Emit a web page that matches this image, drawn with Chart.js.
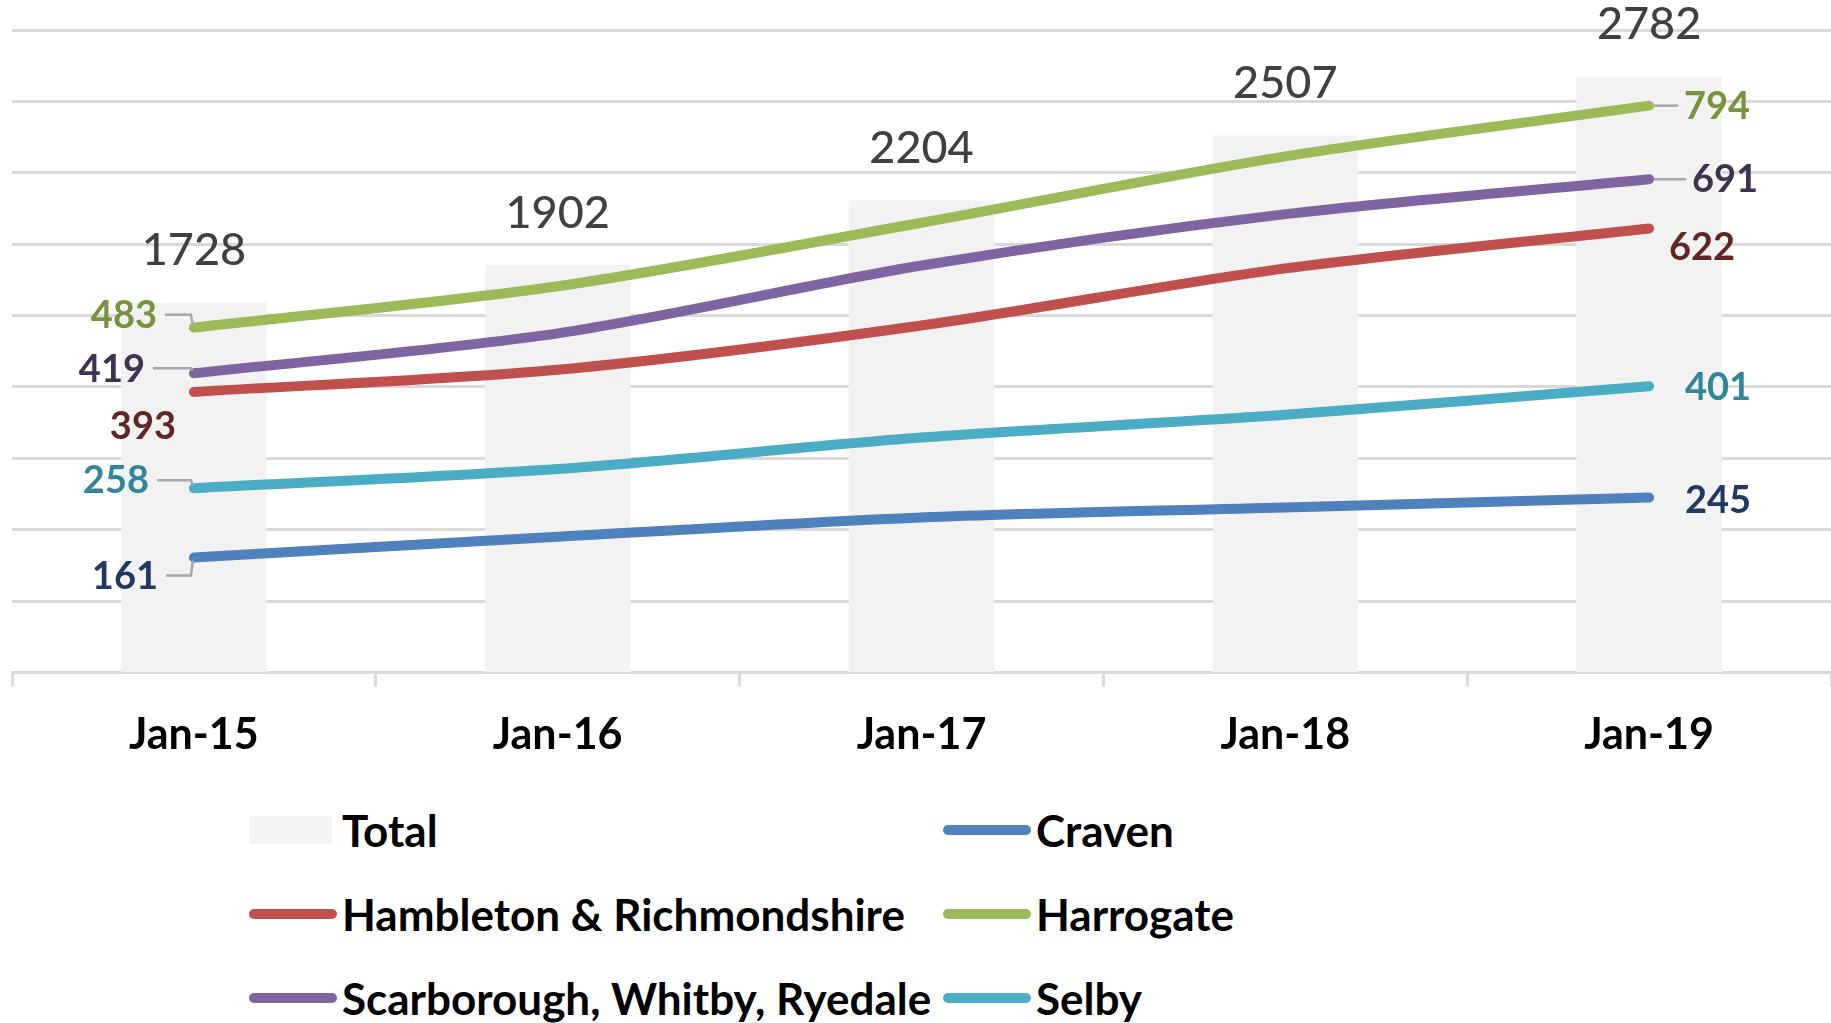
<!DOCTYPE html>
<html>
<head>
<meta charset="utf-8">
<script src="https://cdn.jsdelivr.net/npm/chart.js@4.4.0/dist/chart.umd.min.js"></script>
<style>
    body { margin: 0; background: #fff; font-family: Lato, "Open Sans", sans-serif; }
    #wrap { position: relative; width: 1831px; height: 1023px; }
    #chartBox { position: absolute; left: 0; top: 0; width: 1831px; height: 784px; }
    #legend {
        position: absolute; left: 249px; top: 788px;
        display: grid; grid-template-columns: 694px 600px; grid-auto-rows: 84px;
    }
    .item { display: flex; align-items: center; font-weight: 700; font-size: 44px; color: #000; white-space: nowrap; }
    .swatch { width: 88px; height: 10px; border-radius: 5px; margin-right: 5px; }
    .swatch.box { width: 83px; height: 28px; border-radius: 0; margin-right: 10px; }
</style>
</head>
<body>
<div id="wrap">
    <div id="chartBox"><canvas id="chart"></canvas></div>
    <div id="legend"></div>
</div>
<script>
// Chart data
const months = ['Jan-15', 'Jan-16', 'Jan-17', 'Jan-18', 'Jan-19'];
const total = [1728, 1902, 2204, 2507, 2782];
const craven = [161, 190, 217, 231, 245];
const hambleton = [393, 424, 486, 566, 622];
const harrogate = [483, 541, 630, 723, 794];
const scarborough = [419, 475, 570, 642, 691];
const selby = [258, 285, 329, 361, 401];

// Label placement (offsets from the first / last point)
const labelStyle = {
    'Craven':      { color: '#1f3864', first: { dx: -69, dy: 18, leader: true },  last: { dx: 69, dy: 2 } },
    'Hambleton & Richmondshire': { color: '#632523', first: { dx: -51, dy: 34 }, last: { dx: 53, dy: 18 } },
    'Harrogate':   { color: '#77933c', first: { dx: -70, dy: -13, leader: true }, last: { dx: 68, dy: 0, leader: true } },
    'Scarborough, Whitby, Ryedale': { color: '#3f3151', first: { dx: -82, dy: -5, leader: true }, last: { dx: 76, dy: 0, leader: true } },
    'Selby':       { color: '#31859c', first: { dx: -78, dy: -8, leader: true },  last: { dx: 69, dy: 1 } }
};

const lineSeries = [
    { label: 'Craven', data: craven, color: '#4f81bd' },
    { label: 'Hambleton & Richmondshire', data: hambleton, color: '#c0504d' },
    { label: 'Harrogate', data: harrogate, color: '#9bbb59' },
    { label: 'Scarborough, Whitby, Ryedale', data: scarborough, color: '#8064a2' },
    { label: 'Selby', data: selby, color: '#4bacc6' }
];

const FONT = 'Lato, "Open Sans", sans-serif';

// Draws the data labels the way Excel placed them
const labelPlugin = {
    id: 'excelLabels',
    afterDatasetsDraw(chart) {
        const ctx = chart.ctx;
        ctx.save();
        ctx.textBaseline = 'middle';
        chart.data.datasets.forEach((ds, i) => {
            const meta = chart.getDatasetMeta(i);
            if (ds.type === 'bar') {
                ctx.font = '500 45px ' + FONT;
                ctx.fillStyle = '#404040';
                ctx.textAlign = 'center';
                meta.data.forEach((bar, j) => {
                    ctx.fillText(ds.data[j], bar.x, bar.y - 52);
                });
                return;
            }
            const st = labelStyle[ds.label];
            ctx.font = '700 38px ' + FONT;
            [['first', 0], ['last', ds.data.length - 1]].forEach(([key, idx]) => {
                const pt = meta.data[idx];
                const o = st[key];
                const text = String(ds.data[idx]);
                const w = ctx.measureText(text).width;
                const lx = pt.x + o.dx;
                const ly = pt.y + o.dy;
                ctx.fillStyle = st.color;
                ctx.textAlign = 'center';
                ctx.fillText(text, lx, ly + 1);
                if (o.leader) {
                    ctx.strokeStyle = '#a6a6a6';
                    ctx.lineWidth = 2.5;
                    ctx.beginPath();
                    if (key === 'first') {
                        ctx.moveTo(lx + w / 2 + 8, ly);
                        ctx.lineTo(pt.x - 3, ly);
                        ctx.lineTo(pt.x - 1, pt.y + (o.dy < 0 ? -3 : 3));
                    } else {
                        ctx.moveTo(pt.x + 5, pt.y);
                        ctx.lineTo(lx - w / 2 - 6, pt.y);
                    }
                    ctx.stroke();
                }
            });
        });
        ctx.restore();
    }
};

const datasets = [{
    type: 'bar',
    label: 'Total',
    data: total,
    yAxisID: 'y2',
    backgroundColor: '#f2f2f2',
    barPercentage: 0.4,
    categoryPercentage: 1,
    order: 2
}];
lineSeries.forEach(s => {
    datasets.push({
        type: 'line',
        label: s.label,
        data: s.data,
        yAxisID: 'y',
        borderColor: s.color,
        backgroundColor: s.color,
        borderWidth: 10,
        borderCapStyle: 'round',
        tension: 0.3,
        pointRadius: 0,
        fill: false,
        order: 1
    });
});

const chart = new Chart(document.getElementById('chart'), {
    data: { labels: months, datasets: datasets },
    options: {
        responsive: true,
        maintainAspectRatio: false,
        animation: false,
        layout: { padding: { top: 30, left: 12, right: 0, bottom: 0 } },
        plugins: {
            legend: { display: false },
            tooltip: { enabled: false }
        },
        scales: {
            x: {
                offset: true,
                grid: {
                    drawOnChartArea: false,
                    color: '#d9d9d9',
                    lineWidth: 3,
                    tickLength: 14,
                    offset: true
                },
                border: { color: '#d9d9d9', width: 3 },
                ticks: {
                    color: '#000',
                    padding: 23,
                    font: { family: FONT, size: 43, weight: '700' }
                }
            },
            y: {
                min: 0,
                max: 900,
                ticks: { display: false, stepSize: 100 },
                border: { display: false },
                grid: { color: '#d9d9d9', lineWidth: 3, drawTicks: false },
                afterFit(scale) { scale.width = 0; }
            },
            y2: {
                display: false,
                min: 0,
                max: 3000,
                position: 'right'
            }
        }
    },
    plugins: [labelPlugin]
});

// HTML legend in two columns, built from the chart's datasets
const legendEl = document.getElementById('legend');
chart.data.datasets.forEach(ds => {
    const item = document.createElement('div');
    item.className = 'item';
    const sw = document.createElement('span');
    sw.className = ds.type === 'bar' ? 'swatch box' : 'swatch';
    sw.style.background = ds.backgroundColor;
    item.appendChild(sw);
    item.appendChild(document.createTextNode(ds.label));
    legendEl.appendChild(item);
});
</script>
</body>
</html>
